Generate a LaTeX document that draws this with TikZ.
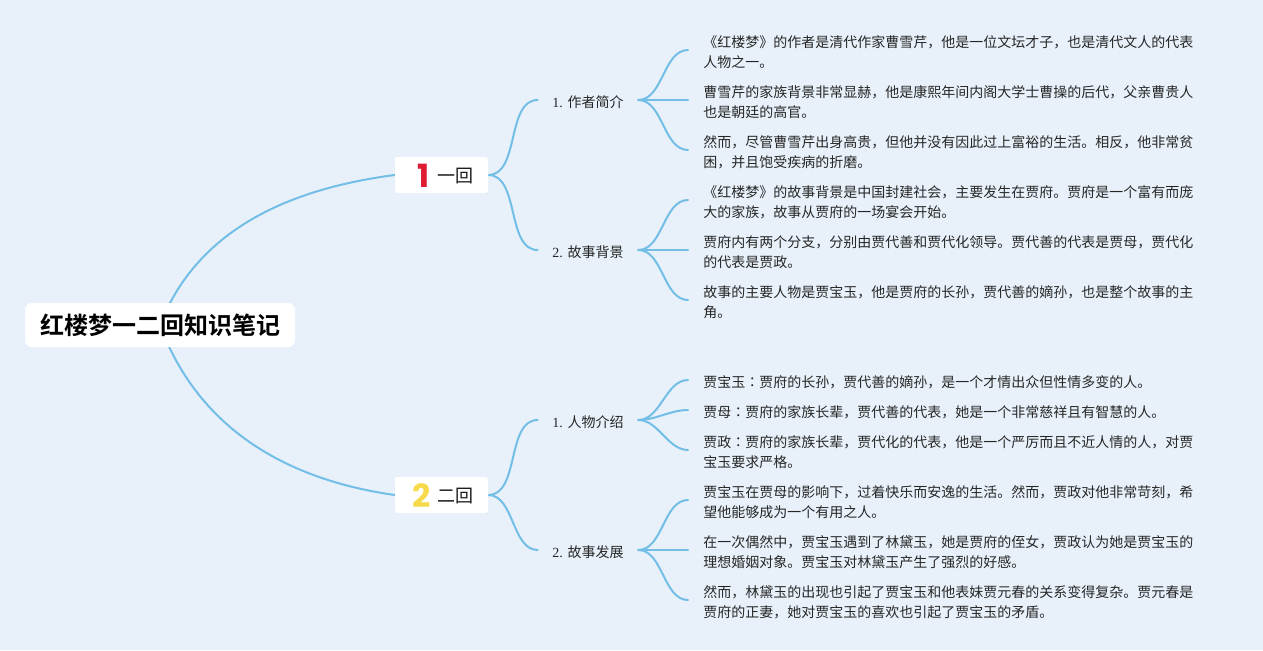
\documentclass[tikz,border=0pt]{standalone}
\usepackage{fontspec}
\setmainfont{Noto Sans CJK SC}
\newfontfamily\numfont{Liberation Serif}
\newfontfamily\badgefont{Poppins}
\newfontfamily\titlefont{Noto Sans CJK SC Bold}
\newfontfamily\colonfont{Noto Sans CJK TC}
\usepackage{xcolor}
\usetikzlibrary{backgrounds}
\definecolor{mapback}{HTML}{E8F1FA}
\definecolor{mapline}{HTML}{73BEE6}
\definecolor{badgered}{HTML}{DE1B32}
\definecolor{badgeyellow}{HTML}{F7D94C}
\newcommand{\maohao}{{\colonfont ：}}
\tikzset{
  % map nodes
  root node/.style = {
    fill=white,
    rounded corners=5pt,
    minimum width=202.5pt,
    minimum height=33pt,
    inner sep=0pt,
    font=\fontsize{18}{22}\selectfont\titlefont,
  },
  branch node/.style = {
    fill=white,
    rounded corners=2pt,
    minimum width=69.75pt,
    minimum height=27pt,
    inner sep=0pt,
  },
  branch text/.style = {
    inner sep=0pt,
    text=black!90,
    font=\fontsize{13.5}{16}\selectfont,
  },
  badge/.style = {
    inner sep=0pt,
    font=\fontsize{24}{26}\selectfont\badgefont\bfseries,
  },
  topic node/.style = {
    minimum width=75pt,
    inner sep=0pt,
    text height=12pt,
    text depth=1.4pt,
    text=black!85,
    font=\fontsize{10.5}{15}\selectfont,
  },
  leaf node/.style = {
    anchor=west,
    yshift=-1.5pt,
    inner xsep=11.25pt,
    inner ysep=0pt,
    align=left,
    text=black!85,
    font=\fontsize{10.5}{15}\selectfont,
  },
  % connectors
  map curve/.style = {
    draw=mapline,
    line width=1.5pt,
    line cap=round,
  },
  fork/.style = {
    map curve,
    out=0,
    in=180,
    looseness=0.9,
  },
}
\begin{document}
\begin{tikzpicture}[x=0.75pt,y=-0.75pt]
  \useasboundingbox (0,0) rectangle (1263,650);
  \begin{scope}[on background layer]
    \fill[mapback] (0,0) rectangle (1263,650);
  \end{scope}
  % centre and the two chapters
  \node[root node] (root) at (160,325) {红楼梦一二回知识笔记};
  \node[branch node] (hui1) at (441.5,175) {};
  \node[branch node] (hui2) at (441.5,495) {};
  \node[badge, text=badgered] (badge1) at (424,175.5) {1};
  \node[badge, text=badgeyellow] (badge2) at (422,495.5) {2};
  \node[branch text] (huitext1) at (455,176.5) {一回};
  \node[branch text] (huitext2) at (455,496.5) {二回};
  % topics
  \node[topic node] (t1) at (588,100) {{\numfont 1. }作者简介};
  \node[topic node] (t2) at (588,250) {{\numfont 2. }故事背景};
  \node[topic node] (t3) at (588,420) {{\numfont 1. }人物介绍};
  \node[topic node] (t4) at (588,550) {{\numfont 2. }故事发展};
  % leaves
  \node[leaf node] (l1) at (688,50) {《红楼梦》的作者是清代作家曹雪芹，他是一位文坛才子，也是清代文人的代表\\人物之一。};
  \node[leaf node] (l2) at (688,100) {曹雪芹的家族背景非常显赫，他是康熙年间内阁大学士曹操的后代，父亲曹贵人\\也是朝廷的高官。};
  \node[leaf node] (l3) at (688,150) {然而，尽管曹雪芹出身高贵，但他并没有因此过上富裕的生活。相反，他非常贫\\困，并且饱受疾病的折磨。};
  \node[leaf node] (l4) at (688,200) {《红楼梦》的故事背景是中国封建社会，主要发生在贾府。贾府是一个富有而庞\\大的家族，故事从贾府的一场宴会开始。};
  \node[leaf node] (l5) at (688,250) {贾府内有两个分支，分别由贾代善和贾代化领导。贾代善的代表是贾母，贾代化\\的代表是贾政。};
  \node[leaf node] (l6) at (688,300) {故事的主要人物是贾宝玉，他是贾府的长孙，贾代善的嫡孙，也是整个故事的主\\角。};
  \node[leaf node] (l7) at (688,380) {贾宝玉\maohao 贾府的长孙，贾代善的嫡孙，是一个才情出众但性情多变的人。};
  \node[leaf node] (l8) at (688,410) {贾母\maohao 贾府的家族长辈，贾代善的代表，她是一个非常慈祥且有智慧的人。};
  \node[leaf node] (l9) at (688,450) {贾政\maohao 贾府的家族长辈，贾代化的代表，他是一个严厉而且不近人情的人，对贾\\宝玉要求严格。};
  \node[leaf node] (l10) at (688,500) {贾宝玉在贾母的影响下，过着快乐而安逸的生活。然而，贾政对他非常苛刻，希\\望他能够成为一个有用之人。};
  \node[leaf node] (l11) at (688,550) {在一次偶然中，贾宝玉遇到了林黛玉，她是贾府的侄女，贾政认为她是贾宝玉的\\理想婚姻对象。贾宝玉对林黛玉产生了强烈的好感。};
  \node[leaf node] (l12) at (688,600) {然而，林黛玉的出现也引起了贾宝玉和他表妹贾元春的关系变得复杂。贾元春是\\贾府的正妻，她对贾宝玉的喜欢也引起了贾宝玉的矛盾。};
  % connectors
  \begin{scope}[on background layer]
    \draw[map curve] (root.center) .. controls (195,235) and (280,190) .. (hui1.west);
    \draw[map curve] (root.center) .. controls (195,420) and (275,478) .. (hui2.west);
    \foreach \from/\to in {hui1/t1,hui1/t2,hui2/t3,hui2/t4}
      \draw[map curve] (\from.east) to[fork] (\to.west);
    \foreach \from/\to in {t1/l1,t1/l2,t1/l3,t2/l4,t2/l5,t2/l6,t3/l7,t3/l8,t3/l9,t4/l10,t4/l11,t4/l12}
      \draw[map curve] (\from.east) to[fork] ([yshift=1.5pt]\to.west);
  \end{scope}
\end{tikzpicture}
\end{document}
